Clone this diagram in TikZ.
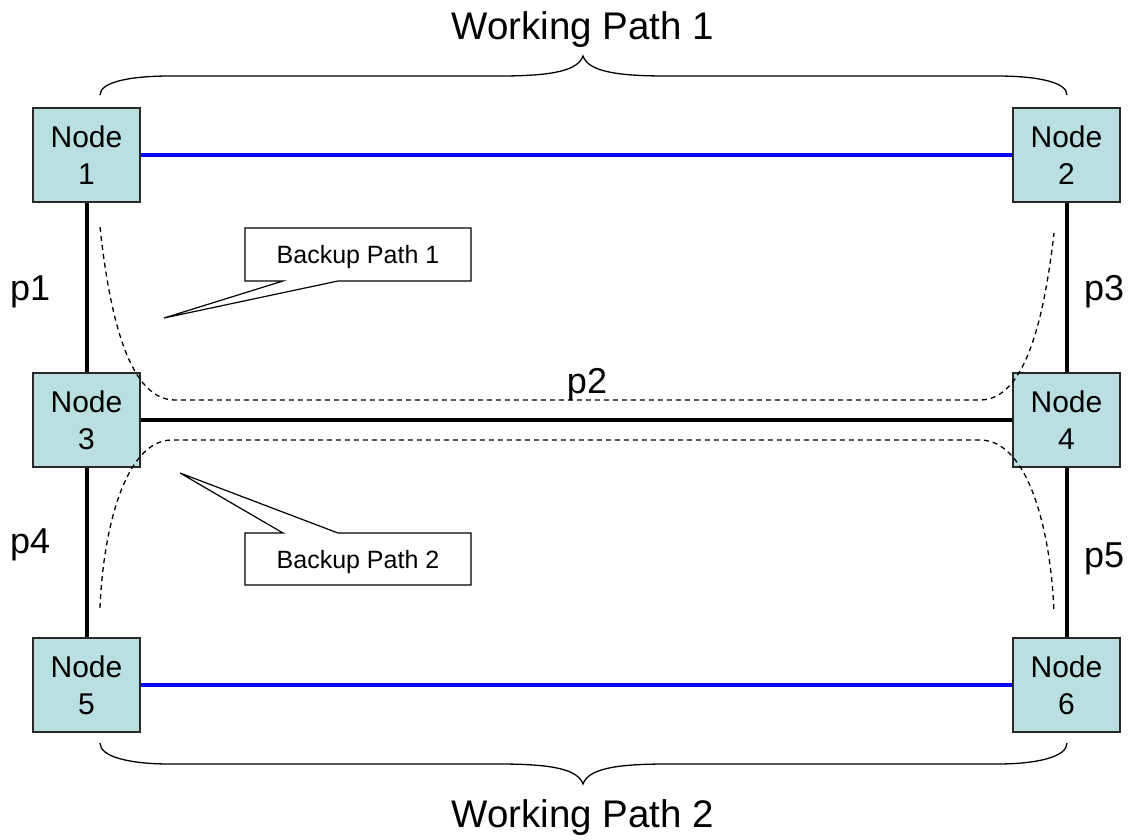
\documentclass[tikz,border=0pt]{standalone}
\usepackage{fontspec}
\setmainfont{Liberation Sans}
\definecolor{nodefill}{RGB}{185,223,225}
\definecolor{nodeedge}{RGB}{40,40,40}
\tikzset{
  netnode/.style={draw=nodeedge, line width=1.3pt, fill=nodefill, minimum width=107pt, minimum height=94pt, inner sep=0pt, align=center, font=\fontsize{30}{37}\selectfont},
  working/.style={blue, line width=3.5pt},
  plink/.style={black, line width=4pt},
  backup/.style={black, line width=1.3pt, dash pattern=on 5pt off 4pt},
  callout/.style={draw=black, fill=white, line width=1.2pt, line join=miter},
  plabel/.style={font=\fontsize{36}{40}\selectfont, anchor=base west, inner sep=0pt},
  title/.style={font=\fontsize{38.5}{44}\selectfont, anchor=base, inner sep=0pt},
  cotext/.style={font=\fontsize{25}{30}\selectfont, anchor=base, inner sep=0pt},
  bracepath/.style={black, line width=1.3pt}
}
\begin{document}
\begin{tikzpicture}[x=1pt, y=-1pt]
\useasboundingbox (0,0) rectangle (1133,839);
% nodes
\node[netnode] (n1) at (86.5,155) {Node\\1};
\node[netnode] (n2) at (1066.5,155) {Node\\2};
\node[netnode] (n3) at (86.5,420) {Node\\3};
\node[netnode] (n4) at (1066.5,420) {Node\\4};
\node[netnode] (n5) at (86.5,685) {Node\\5};
\node[netnode] (n6) at (1066.5,685) {Node\\6};
% links
\draw[working] (n1) -- (n2);
\draw[working] (n5) -- (n6);
\draw[plink] (n1) -- (n3);
\draw[plink] (n3) -- (n4);
\draw[plink] (n2) -- (n4);
\draw[plink] (n3) -- (n5);
\draw[plink] (n4) -- (n6);
% link labels
\node[plabel] (p1) at (10,300) {p1};
\node[plabel] (p3) at (1084,300) {p3};
\node[plabel] (p4) at (10,553) {p4};
\node[plabel] (p5) at (1084,567) {p5};
\node[plabel, anchor=base] (p2) at (587,393) {p2};
% backup paths
\draw[backup] (100,227) .. controls (110,320) and (130,400) .. (175,400) -- (980,400) .. controls (1025,400) and (1044,320) .. (1054,233);
\draw[backup] (100,608) .. controls (103,530) and (125,440) .. (172,440) -- (980,440) .. controls (1028,440) and (1051,530) .. (1054,613);
% callouts
\draw[callout] (245,228) -- (471,228) -- (471,281) -- (338,281) -- (164,318) -- (283,281) -- (245,281) -- cycle;
\node[cotext] (bp1) at (358,263) {Backup Path 1};
\draw[callout] (245,585) -- (245,533) -- (283,533) -- (180,473) -- (338,533) -- (471,533) -- (471,585) -- cycle;
\node[cotext] (bp2) at (358,568) {Backup Path 2};
% braces
\draw[bracepath] (100,95) .. controls (100,82) and (130,76) .. (170,76) -- (500,76) .. controls (555,76) and (578,70) .. (583,56) .. controls (588,70) and (611,76) .. (666,76) -- (997,76) .. controls (1037,76) and (1067,82) .. (1067,95);
\draw[bracepath] (100,743) .. controls (100,757) and (130,764) .. (170,764) -- (500,764) .. controls (555,764) and (578,770) .. (583,784) .. controls (588,770) and (611,764) .. (666,764) -- (997,764) .. controls (1037,764) and (1067,757) .. (1067,743);
% titles
\node[title] (wp1) at (583,39) {Working Path 1};
\node[title] (wp2) at (583,827) {Working Path 2};
\end{tikzpicture}
\end{document}
